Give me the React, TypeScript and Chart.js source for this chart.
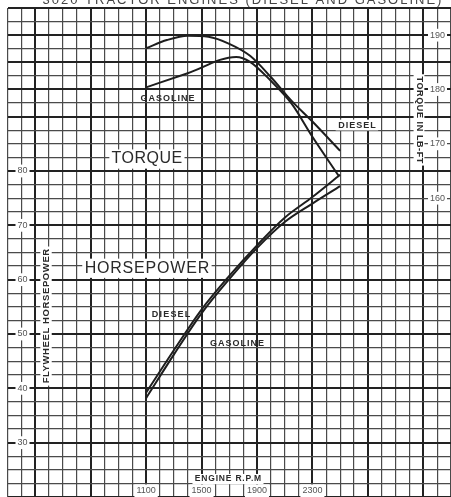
import React, { useEffect, useRef } from 'react';
import { Chart, registerables } from 'chart.js';

Chart.register(...registerables);

// ---- data ----
const chartTitle = '3020 TRACTOR ENGINES (DIESEL AND GASOLINE)';

const dieselTorqueRpm = [1100, 1250, 1400, 1550, 1700, 1850, 2000, 2150, 2300, 2500];
const dieselTorque = [187.6, 189.1, 189.9, 189.7, 188.4, 186.2, 182.3, 177.9, 174.1, 168.7];

const gasTorqueRpm = [1100, 1400, 1750, 1850, 2000, 2150, 2300, 2490];
const gasTorque = [180.4, 183.0, 186.0, 185.1, 181.6, 177.4, 171.3, 164.1];

const hpRpm = [1100, 1300, 1500, 1700, 1900, 2100, 2300, 2500];
const dieselHp = [39.2, 47.0, 54.5, 60.7, 66.3, 71.4, 75.2, 79.3];
const gasHp = [38.2, 46.2, 53.8, 60.1, 65.8, 70.6, 74.0, 77.2];

const rpmLabels = [1100, 1500, 1900, 2300];
const hpLabels = [30, 40, 50, 60, 70, 80];
const torqueLabels = [160, 170, 180, 190];

// text notes placed in data coordinates (rpm, hp)
const notes = [
  { text: 'TORQUE', rpm: 1106, hp: 82.2, size: 16, weight: '400', spacing: 0.5, bg: true, rot: 0 },
  { text: 'HORSEPOWER', rpm: 1106, hp: 62.1, size: 16, weight: '400', spacing: 0.8, bg: true, rot: 0 },
  { text: 'GASOLINE', rpm: 1254, hp: 93.25, size: 9, weight: '700', spacing: 1, bg: false, rot: 0 },
  { text: 'DIESEL', rpm: 2621, hp: 88.46, size: 9, weight: '700', spacing: 1, bg: true, rot: 0 },
  { text: 'DIESEL', rpm: 1280, hp: 53.5, size: 9, weight: '700', spacing: 1.2, bg: false, rot: 0 },
  { text: 'GASOLINE', rpm: 1756, hp: 48.2, size: 9, weight: '700', spacing: 1, bg: false, rot: 0 },
  { text: 'ENGINE R.P.M', rpm: 1691, hp: 23.3, size: 8.5, weight: '700', spacing: 0.8, bg: true, rot: 0 },
  { text: 'FLYWHEEL HORSEPOWER', rpm: 378, hp: 53.3, size: 9.5, weight: '700', spacing: 0.6, bg: true, rot: -90 },
  { text: 'TORQUE IN LB-FT', rpm: 3069, hp: 89.4, size: 9, weight: '700', spacing: 0.6, bg: true, rot: 90 },
];

const FONT = '"Liberation Sans", Arial, sans-serif';
const INK = '#2a2a2a';

const pairs = (xs: number[], ys: number[]) => xs.map((x, i) => ({ x, y: ys[i] }));

const notePlugin = {
  id: 'notes',
  afterDatasetsDraw(chart: any) {
    const { ctx, scales } = chart;
    for (const n of notes) {
      const x = scales.x.getPixelForValue(n.rpm);
      const y = scales.hp.getPixelForValue(n.hp);
      ctx.save();
      ctx.translate(x, y);
      if (n.rot) ctx.rotate((n.rot * Math.PI) / 180);
      ctx.font = `${n.weight} ${n.size}px ${FONT}`;
      (ctx as any).letterSpacing = `${n.spacing}px`;
      const w = ctx.measureText(n.text).width;
      if (n.bg) {
        ctx.fillStyle = '#ffffff';
        ctx.fillRect(-w / 2 - 2, -n.size * 0.6, w + 4, n.size * 1.2);
      }
      ctx.fillStyle = INK;
      ctx.textAlign = 'center';
      ctx.textBaseline = 'middle';
      ctx.fillText(n.text, n.spacing / 2, 0);
      ctx.restore();
    }
    // title, cut off at the top of the page as in the scan
    ctx.save();
    ctx.font = `400 13px ${FONT}`;
    (ctx as any).letterSpacing = '2px';
    ctx.fillStyle = '#444';
    ctx.textAlign = 'center';
    ctx.textBaseline = 'alphabetic';
    ctx.fillText(chartTitle, 243, 4);
    ctx.restore();
  },
};

const isMajorRpm = (v: number) => (v - 300) % 400 === 0;
const isMajorHp = (v: number) => v % 10 === 0 || v === 105 || v === 95;

const backdrop = (list: number[]) => (c: any) =>
  c.tick && list.includes(c.tick.value) ? '#ffffff' : 'rgba(0,0,0,0)';

const noPad = (s: any) => {
  s.paddingTop = 0;
  s.paddingBottom = 0;
  s.paddingLeft = 0;
  s.paddingRight = 0;
};

export default function App() {
  const ref = useRef<HTMLCanvasElement | null>(null);

  useEffect(() => {
    if (!ref.current) return;
    const line = (label: string, xs: number[], ys: number[], axis: string) => ({
      label,
      data: pairs(xs, ys),
      yAxisID: axis,
      borderColor: '#1e1e1e',
      borderWidth: 2,
      pointRadius: 0,
      fill: false,
      cubicInterpolationMode: 'monotone' as const,
    });
    const chart = new Chart(ref.current, {
      type: 'line',
      data: {
        datasets: [
          line('Diesel torque', dieselTorqueRpm, dieselTorque, 'tq'),
          line('Gasoline torque', gasTorqueRpm, gasTorque, 'tq'),
          line('Diesel horsepower', hpRpm, dieselHp, 'hp'),
          line('Gasoline horsepower', hpRpm, gasHp, 'hp'),
        ],
      },
      options: {
        animation: false,
        responsive: true,
        maintainAspectRatio: false,
        layout: { padding: { left: 7.5, right: 0, top: 8, bottom: 0 } },
        plugins: {
          legend: { display: false },
          title: { display: false },
          tooltip: { enabled: false },
        },
        scales: {
          x: {
            type: 'linear',
            position: { hp: 22.5 } as any,
            min: 100,
            max: 3300,
            border: { display: false },
            grid: {
              drawTicks: false,
              color: (c: any) => (c.tick && isMajorRpm(c.tick.value) ? '#222' : '#4a4a4a'),
              lineWidth: (c: any) => (c.tick && isMajorRpm(c.tick.value) ? 2 : 1.2),
            },
            ticks: {
              stepSize: 100,
              autoSkip: false,
              maxRotation: 0,
              minRotation: 0,
              padding: 2,
              color: '#555',
              font: { family: FONT, size: 9 },
              callback: (v: any) => (rpmLabels.includes(Number(v)) ? String(v) : ''),
              showLabelBackdrop: true,
              backdropColor: backdrop(rpmLabels),
              backdropPadding: { x: 2, y: 1 },
            } as any,
            afterFit: (s: any) => {
              s.height = 0;
              noPad(s);
            },
          },
          hp: {
            type: 'linear',
            position: 'left',
            min: 20,
            max: 110,
            border: { display: false },
            grid: {
              drawTicks: false,
              color: (c: any) => (c.tick && isMajorHp(c.tick.value) ? '#222' : '#4a4a4a'),
              lineWidth: (c: any) => (c.tick && isMajorHp(c.tick.value) ? 2 : 1.2),
            },
            ticks: {
              stepSize: 2.5,
              autoSkip: false,
              mirror: true,
              padding: 10,
              color: '#555',
              font: { family: FONT, size: 9 },
              callback: (v: any) => (hpLabels.includes(Number(v)) ? String(v) : ''),
              showLabelBackdrop: true,
              backdropColor: backdrop(hpLabels),
              backdropPadding: { x: 2, y: 1 },
            } as any,
            afterFit: (s: any) => {
              s.width = 0;
              noPad(s);
            },
          },
          tq: {
            type: 'linear',
            position: 'right',
            min: 105,
            max: 195,
            border: { display: false },
            grid: { display: false, drawTicks: false },
            ticks: {
              stepSize: 5,
              autoSkip: false,
              mirror: true,
              padding: -6,
              color: '#555',
              font: { family: FONT, size: 9 },
              callback: (v: any) => (torqueLabels.includes(Number(v)) ? String(v) : ''),
              showLabelBackdrop: true,
              backdropColor: backdrop(torqueLabels),
              backdropPadding: { x: 2, y: 1 },
            } as any,
            afterFit: (s: any) => {
              s.width = 0;
              noPad(s);
            },
          },
        },
      },
      plugins: [notePlugin],
    });
    return () => chart.destroy();
  }, []);

  return (
    <div
      style={{
        position: 'fixed',
        left: 0,
        top: 0,
        width: 451,
        height: 497,
        background: '#ffffff',
      }}
    >
      <canvas ref={ref} />
    </div>
  );
}
